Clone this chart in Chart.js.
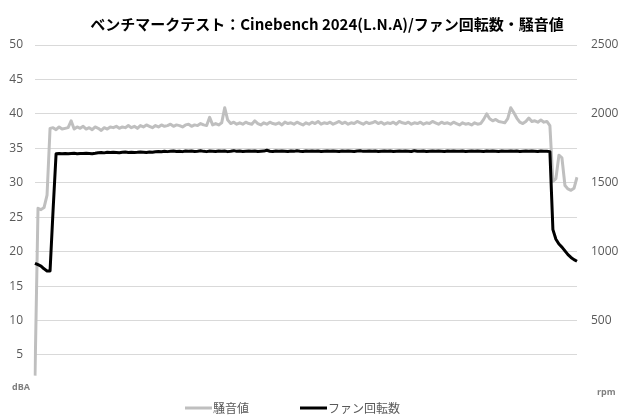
<!DOCTYPE html>
<html><head><meta charset="utf-8">
<script src="https://cdn.jsdelivr.net/npm/chart.js@4.4.1/dist/chart.umd.min.js"></script>
<style>html,body{margin:0;padding:0;background:#fff}#wrap{width:620px;height:420px}</style>
</head><body><div id="wrap"><canvas id="c" width="620" height="420"></canvas></div>
<script>
const titleText = 'ベンチマークテスト：Cinebench 2024(L.N.A)/ファン回転数・騒音値';
const seriesNames = ['騒音値', 'ファン回転数'];
const unitLeft = 'dBA';
const unitRight = 'rpm';
const leftTicks = [5, 10, 15, 20, 25, 30, 35, 40, 45, 50];
const rightTicks = [500, 1000, 1500, 2000, 2500];

const noiseDb = [
2.0, 26.3, 26.1, 26.4, 28.2, 37.9, 38.0, 37.7, 38.1, 37.8,
37.9, 38.0, 39.0, 37.8, 38.1, 37.9, 38.2, 37.8, 38.0, 37.7,
38.1, 37.9, 37.6, 38.0, 37.8, 38.1, 38.0, 38.2, 37.9, 38.1,
38.0, 38.3, 38.0, 38.2, 37.9, 38.3, 38.1, 38.4, 38.2, 38.0,
38.3, 38.1, 38.4, 38.2, 38.3, 38.5, 38.2, 38.4, 38.3, 38.1,
38.4, 38.5, 38.2, 38.4, 38.3, 38.6, 38.4, 38.3, 39.5, 38.4,
38.6, 38.4, 38.7, 40.9, 39.1, 38.6, 38.8, 38.5, 38.7, 38.5,
38.8, 38.6, 38.5, 39.0, 38.6, 38.4, 38.7, 38.5, 38.8, 38.6,
38.5, 38.7, 38.4, 38.8, 38.6, 38.7, 38.5, 38.8, 38.6, 38.4,
38.7, 38.5, 38.8, 38.6, 38.9, 38.5, 38.7, 38.6, 38.8, 38.5,
38.7, 38.9, 38.6, 38.8, 38.5, 38.7, 38.6, 38.9, 38.7, 38.5,
38.8, 38.6, 38.7, 38.9, 38.6, 38.8, 38.5, 38.7, 38.6, 38.8,
38.5, 38.9, 38.7, 38.6, 38.8, 38.5, 38.7, 38.6, 38.8, 38.5,
38.7, 38.6, 38.9, 38.7, 38.5, 38.8, 38.6, 38.7, 38.5, 38.8,
38.6, 38.4, 38.7, 38.5, 38.6, 38.4, 38.7, 38.5, 38.6, 39.2,
40.0, 39.3, 39.0, 39.2, 38.9, 38.8, 38.7, 39.3, 40.9, 40.2,
39.4, 38.8, 38.6, 38.9, 39.4, 38.9, 39.0, 38.8, 39.1, 38.8,
38.9, 38.3, 30.2, 30.6, 34.0, 33.6, 29.6, 29.1, 28.9, 29.2,
30.8
];

const fanRpm = [
915, 905, 895, 875, 860, 860, 1300, 1710, 1712, 1711,
1713, 1710, 1712, 1714, 1711, 1713, 1712, 1715, 1713, 1711,
1714, 1718, 1720, 1717, 1721, 1719, 1722, 1720, 1718, 1721,
1723, 1720, 1722, 1719, 1721, 1724, 1722, 1720, 1723, 1721,
1725, 1727, 1725, 1729, 1726, 1728, 1730, 1727, 1729, 1726,
1731, 1728, 1730, 1727, 1729, 1732, 1728, 1726, 1730, 1729,
1727, 1731, 1728, 1730, 1726, 1729, 1733, 1728, 1730, 1727,
1729, 1730, 1728, 1731, 1727, 1729, 1730, 1736, 1729, 1727,
1730, 1728, 1731, 1729, 1727, 1730, 1728, 1732, 1729, 1727,
1730, 1729, 1731, 1728, 1730, 1727, 1729, 1731, 1728, 1730,
1729, 1727, 1730, 1728, 1731, 1729, 1727, 1730, 1732, 1728,
1729, 1731, 1728, 1730, 1727, 1729, 1731, 1728, 1730, 1727,
1729, 1730, 1728, 1731, 1729, 1727, 1733, 1729, 1728, 1730,
1727, 1729, 1731, 1728, 1730, 1729, 1727, 1730, 1728, 1731,
1729, 1728, 1730, 1727, 1729, 1731, 1728, 1730, 1729, 1727,
1730, 1728, 1731, 1729, 1727, 1730, 1728, 1729, 1731, 1728,
1730, 1727, 1729, 1730, 1728, 1731, 1729, 1727, 1730, 1728,
1729, 1726, 1160, 1090, 1055, 1033, 1005, 978, 958, 942,
930
];

const categories = noiseDb.map((_, i) => i + 1);

const GRAY = '#bfbfbf';
const BLACK = '#000000';
const TXT = '#595959';
const JP = "'Noto Sans CJK JP', sans-serif";

const extras = {
  id: 'extras',
  afterDraw(chart) {
    const ctx = chart.ctx;
    ctx.save();
    ctx.fillStyle = '#000';
    ctx.font = "bold 15px " + JP;
    ctx.textAlign = 'center';
    ctx.textBaseline = 'middle';
    ctx.fillText(titleText, 327, 24);
    ctx.fillStyle = '#7f7f7f';
    ctx.font = "bold 9px 'Open Sans', sans-serif";
    ctx.textAlign = 'left';
    ctx.fillText(unitLeft, 12, 387);
    ctx.fillText(unitRight, 597, 392);
    const items = [
      {x: 185, color: GRAY, text: seriesNames[0]},
      {x: 300, color: BLACK, text: seriesNames[1]}
    ];
    ctx.font = "12px " + JP;
    items.forEach(it => {
      ctx.strokeStyle = it.color;
      ctx.lineWidth = 3;
      ctx.beginPath();
      ctx.moveTo(it.x, 408);
      ctx.lineTo(it.x + 27, 408);
      ctx.stroke();
      ctx.fillStyle = TXT;
      ctx.fillText(it.text, it.x + 28, 408);
    });
    ctx.restore();
  }
};

new Chart(document.getElementById('c'), {
  type: 'line',
  data: {
    labels: categories,
    datasets: [
      {label: seriesNames[0], data: noiseDb, yAxisID: 'y', borderColor: GRAY, backgroundColor: GRAY,
       borderWidth: 3, pointRadius: 0, tension: 0, borderJoinStyle: 'round', order: 2},
      {label: seriesNames[1], data: fanRpm, yAxisID: 'y2', borderColor: BLACK, backgroundColor: BLACK,
       borderWidth: 3, pointRadius: 0, tension: 0, borderJoinStyle: 'round', order: 1}
    ]
  },
  options: {
    responsive: false,
    animation: false,
    devicePixelRatio: 1,
    layout: {padding: {top: 45, bottom: 30.6, left: 0, right: 0}},
    plugins: {legend: {display: false}, title: {display: false}, tooltip: {enabled: false}},
    scales: {
      x: {type: 'category', display: false, offset: false},
      y: {
        position: 'left', min: 0, max: 50,
        afterFit: s => { s.width = 35; },
        afterBuildTicks: s => { s.ticks = leftTicks.map(v => ({value: v})); },
        ticks: {padding: 12, color: TXT, font: {size: 12, family: "'Open Sans', sans-serif"},
                callback: v => String(v)},
        grid: {color: '#d9d9d9', lineWidth: 1, drawTicks: false},
        border: {display: false}
      },
      y2: {
        position: 'right', min: 0, max: 2500,
        afterFit: s => { s.width = 43; },
        afterBuildTicks: s => { s.ticks = rightTicks.map(v => ({value: v})); },
        ticks: {padding: 14, color: TXT, font: {size: 12, family: "'Open Sans', sans-serif"},
                callback: v => String(v)},
        grid: {display: false, drawTicks: false},
        border: {display: false}
      }
    }
  },
  plugins: [extras]
});
</script>
</body></html>
